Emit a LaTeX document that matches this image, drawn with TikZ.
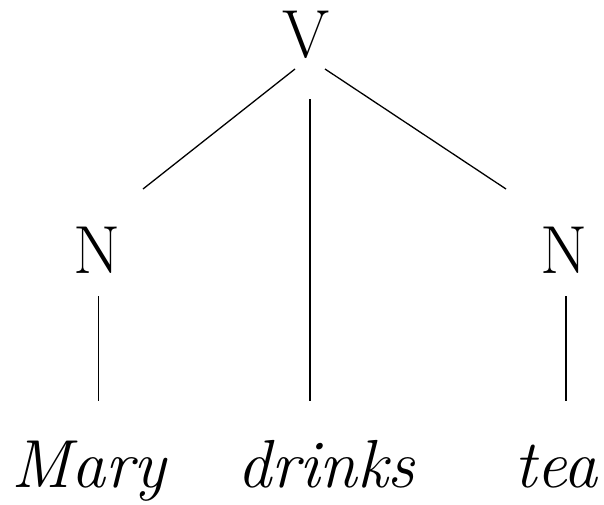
\documentclass[tikz,border=0pt]{standalone}
\usetikzlibrary{calc}
\tikzset{
  cat/.style={inner sep=0pt, anchor=base, font=\fontsize{68}{72}\selectfont},
  word/.style={inner sep=0pt, anchor=base, font=\fontsize{68}{72}\selectfont\itshape},
  branch/.style={line width=1.3pt}
}
\begin{document}
\begin{tikzpicture}[x=1pt, y=-1pt]
\useasboundingbox (0,0) rectangle (604,504);
\node [cat] (V) at (306,57) {V};
\node [cat] (nl) at (97,273) {N};
\node [cat] (nr) at (564,273) {N};
\node [word] (mary) at (88.5,487) {Mary};
\node [word] (drinks) at (326,487) {drinks};
\node [word] (tea) at (556,487) {tea};
\draw [branch] ($(V.base)+(-11,12)$) -- ($(nl.base)+(46,-84)$);
\draw [branch] ($(V.base)+(4,42)$) -- ($(drinks.base)+(-16,-86)$);
\draw [branch] ($(V.base)+(19,12)$) -- ($(nr.base)+(-58,-84)$);
\draw [branch] ($(nl.base)+(1.5,23)$) -- ($(mary.base)+(10,-86)$);
\draw [branch] ($(nr.base)+(2,23)$) -- ($(tea.base)+(10,-86)$);
\end{tikzpicture}
\end{document}
